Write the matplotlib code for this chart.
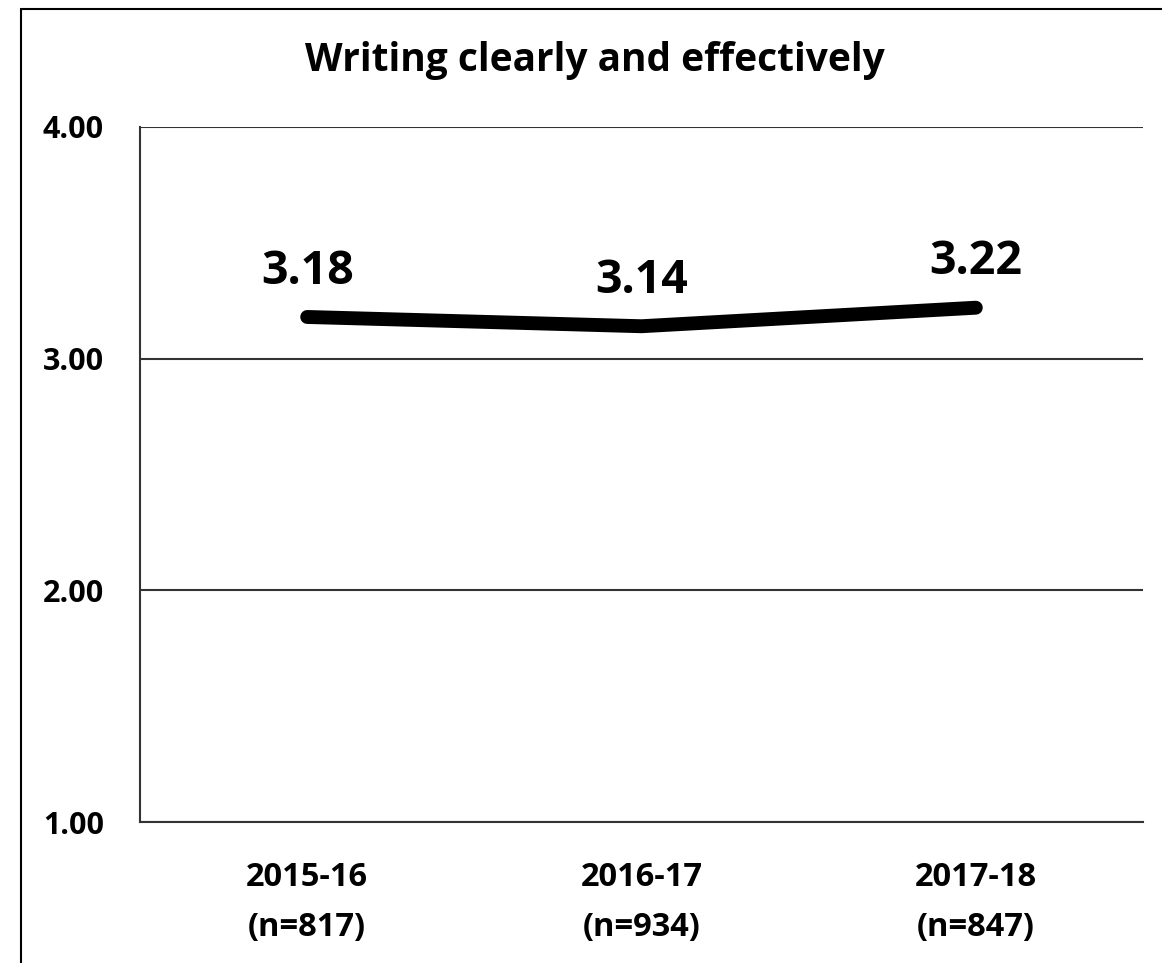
import matplotlib.pyplot as plt
from matplotlib.patches import Rectangle

# survey means by academic year
years = ["2015-16", "2016-17", "2017-18"]
counts = [817, 934, 847]
means = [3.18, 3.14, 3.22]
y_ticks = [1.0, 2.0, 3.0, 4.0]

plt.rcParams['font.family'] = ['Open Sans', 'DejaVu Sans']
plt.rcParams['font.weight'] = 'bold'

W, H = 1162, 963
fig = plt.figure(figsize=(W / 100, H / 100), dpi=100)

# chart frame (runs off the right and bottom edge)
fig.patches.append(Rectangle((21 / W, -0.05), 1.2, 1 - 9 / H + 0.05,
                             transform=fig.transFigure, fill=False,
                             edgecolor='black', linewidth=1.5, zorder=0))

ax = fig.add_axes([140 / W, 1 - 822 / H, (1143 - 140) / W, (822 - 127) / H])

x = list(range(len(years)))
ax.plot(x, means, color='black', linewidth=10, solid_capstyle='round',
        solid_joinstyle='round', zorder=3)
for xi, m in zip(x, means):
    ax.annotate(f"{m:.2f}", (xi, m), xytext=(0, 33), textcoords='offset points',
                ha='center', va='center', fontsize=33.5, fontweight='bold')

ax.set_xlim(-0.5, len(years) - 0.5)
ax.set_ylim(1, 4)
ax.set_yticks(y_ticks)
ax.set_yticklabels([f"{t:.2f}" for t in y_ticks], fontsize=22, fontweight='bold')
ax.set_xticks(x)
ax.set_xticklabels([f"{y}\n(n={n})" for y, n in zip(years, counts)],
                   fontsize=23.5, fontweight='bold', linespacing=1.7)
ax.tick_params(axis='both', length=0)
ax.tick_params(axis='y', pad=26)
ax.tick_params(axis='x', pad=28)

ax.grid(axis='y', color='#333333', linewidth=1.5)
ax.set_axisbelow(True)
for side in ['top', 'right']:
    ax.spines[side].set_visible(False)
for side in ['left', 'bottom']:
    ax.spines[side].set_linewidth(1.5)
    ax.spines[side].set_color('#333333')

fig.text(595 / W, 1 - 60 / H, "Writing clearly and effectively",
         ha='center', va='center', fontsize=28, fontweight='bold')

fig.savefig("out.png", dpi=100)
